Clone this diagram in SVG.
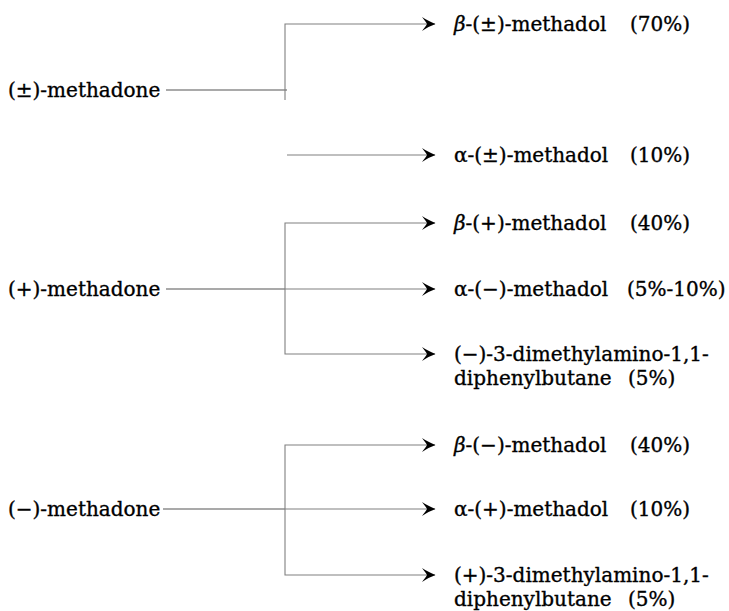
<svg xmlns="http://www.w3.org/2000/svg" width="729" height="611" viewBox="0 0 729 611">
<style>
text{font-family:"DejaVu Serif","Liberation Serif",serif;font-size:20px;fill:#000;stroke:#000;stroke-width:0.35}
.g{font-style:italic}
.ln{stroke:#555;stroke-width:1.1;fill:none}
.ar{stroke:#808080;stroke-width:1.1;fill:none;marker-end:url(#ah)}
</style>
<defs>
<marker id="ah" markerUnits="userSpaceOnUse" markerWidth="16" markerHeight="16" viewBox="-14 -8 16 16" refX="0" refY="0" orient="auto">
<path d="M0.5,0 C-4,-1.8 -9,-4.2 -13,-7 C-10.5,-3.8 -9,-1.8 -8,0 C-9,1.8 -10.5,3.8 -13,7 C-9,4.2 -4,1.8 0.5,0 Z" fill="#000"/>
</marker>
</defs>
<rect width="729" height="611" fill="#fff"/>
<g id="connectors">
<path class="ln" d="M166,90 H287"/>
<path class="ar" d="M285,100 V24 H435"/>
<path class="ar" d="M287,155 H435"/>
<path class="ln" d="M166,289 H285"/>
<path class="ar" d="M285,289 V223 H435"/>
<path class="ar" d="M285,289 H435"/>
<path class="ar" d="M285,289 V354 H435"/>
<path class="ln" d="M163,509 H285"/>
<path class="ar" d="M285,509 V445 H435"/>
<path class="ar" d="M285,509 H435"/>
<path class="ar" d="M285,509 V575 H435"/>
</g>
<g id="rac-methadone"><text x="8" y="97">(±)-methadone</text></g>
<g id="beta-rac-methadol"><text x="454" y="31"><tspan class="g">β</tspan>-(±)-methadol</text><text x="630" y="31">(70%)</text></g>
<g id="alpha-rac-methadol"><text x="454" y="162">α-(±)-methadol</text><text x="630" y="162">(10%)</text></g>
<g id="plus-methadone"><text x="8" y="296">(+)-methadone</text></g>
<g id="beta-plus-methadol"><text x="454" y="230"><tspan class="g">β</tspan>-(+)-methadol</text><text x="630" y="230">(40%)</text></g>
<g id="alpha-minus-methadol"><text x="454" y="296">α-(−)-methadol</text><text x="627" y="296">(5%-10%)</text></g>
<g id="minus-dmadpb"><text x="454" y="361">(−)-3-dimethylamino-1,1-</text><text x="454" y="385">diphenylbutane</text><text x="628" y="385">(5%)</text></g>
<g id="minus-methadone"><text x="8" y="516">(−)-methadone</text></g>
<g id="beta-minus-methadol"><text x="454" y="452"><tspan class="g">β</tspan>-(−)-methadol</text><text x="630" y="452">(40%)</text></g>
<g id="alpha-plus-methadol"><text x="454" y="516">α-(+)-methadol</text><text x="630" y="516">(10%)</text></g>
<g id="plus-dmadpb"><text x="454" y="582">(+)-3-dimethylamino-1,1-</text><text x="454" y="606">diphenylbutane</text><text x="628" y="606">(5%)</text></g>
</svg>
